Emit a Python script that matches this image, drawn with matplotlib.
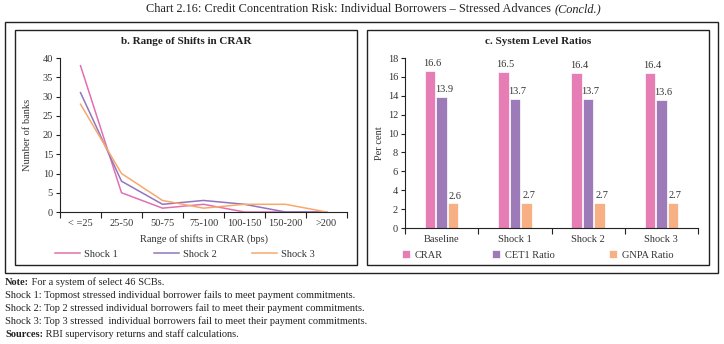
import matplotlib
matplotlib.use("Agg")
import matplotlib.pyplot as plt
from matplotlib.patches import Rectangle
import numpy as np

# ---- data ----
shift_cats = ["< =25", "25-50", "50-75", "75-100", "100-150", "150-200", ">200"]
shock1 = [38, 5, 1, 2, 0, 0, 0]
shock2 = [31, 8, 2, 3, 2, 0, 0]
shock3 = [28, 10, 3, 1, 2, 2, 0]

ratio_cats = ["Baseline", "Shock 1", "Shock 2", "Shock 3"]
crar = [16.6, 16.5, 16.4, 16.4]
cet1 = [13.9, 13.7, 13.7, 13.6]
gnpa = [2.6, 2.7, 2.7, 2.7]

plt.rcParams['font.family'] = ['Liberation Serif', 'DejaVu Serif']

W, H = 724, 344
fig = plt.figure(figsize=(W / 100, H / 100), dpi=100)

def fx(x):
    return x / W

def fy(y):
    return 1 - y / H

def rect(x0, y0, x1, y1, lw=1.0):
    fig.add_artist(Rectangle((fx(x0), fy(y1)), fx(x1) - fx(x0), fy(y0) - fy(y1),
                             transform=fig.transFigure, fill=False,
                             edgecolor="#222222", linewidth=lw))

# frames
rect(5, 22, 718, 273, lw=1.0)
rect(15, 30, 357, 265, lw=1.0)
rect(367, 30, 709, 265, lw=1.0)

tcol = "#333333"
FS = 7.5
c_pink, c_purple, c_orange = "#E36FB0", "#9275BE", "#F8A86A"
b_pink, b_purple, b_orange = "#E67DB4", "#9C7BB8", "#F7B084"

fig.canvas.draw()
renderer = fig.canvas.get_renderer()

t = fig.text(fx(146), fy(12), "Chart 2.16: Credit Concentration Risk: Individual Borrowers \u2013 Stressed Advances ",
             ha="left", va="baseline", fontsize=8.8, color="#222222")
bb = t.get_window_extent(renderer=renderer)
fig.text(bb.x1 / fig.bbox.width, fy(12), "(Concld.)", ha="left", va="baseline", fontsize=8.8,
         style="italic", color="#222222")

# ---------- left panel ----------
ax1 = fig.add_axes([fx(60), fy(212), fx(347) - fx(60), fy(58) - fy(212)])
x = np.arange(len(shift_cats))
l1, = ax1.plot(x, shock1, color=c_pink, lw=1.1, label="Shock 1")
l2, = ax1.plot(x, shock2, color=c_purple, lw=1.1, label="Shock 2")
l3, = ax1.plot(x, shock3, color=c_orange, lw=1.1, label="Shock 3")
ax1.set_xlim(-0.5, len(shift_cats) - 0.5)
ax1.set_ylim(0, 40)
ax1.set_yticks(range(0, 41, 5))
ax1.set_xticks(np.arange(-0.5, len(shift_cats), 1))
ax1.set_xticklabels([])
ax1.set_xticks(x, minor=True)
ax1.set_xticklabels(shift_cats, minor=True)
ax1.tick_params(axis="x", which="minor", length=0, pad=5, labelsize=FS, colors=tcol)
ax1.tick_params(axis="x", which="major", length=4, width=0.8, color="#222222")
ax1.tick_params(axis="y", length=3, width=0.8, labelsize=FS, colors=tcol, color="#222222", pad=2)
for s in ["top", "right"]:
    ax1.spines[s].set_visible(False)
for s in ["left", "bottom"]:
    ax1.spines[s].set_color("#222222")
    ax1.spines[s].set_linewidth(0.8)
ax1.set_facecolor("none")
fig.text(fx(186), fy(42), "b. Range of Shifts in CRAR", ha="center", va="center",
         fontsize=8, fontweight="bold", color="#222222")
fig.text(fx(28), fy(135), "Number of banks", ha="center", va="center", rotation=90,
         fontsize=FS, color=tcol)
fig.text(fx(204), fy(239), "Range of shifts in CRAR (bps)", ha="center", va="center",
         fontsize=FS, color=tcol)

for h, xs in zip([l1, l2, l3], [55, 154, 252]):
    lg = fig.legend(handles=[h], loc="center left", bbox_to_anchor=(fx(xs), fy(254)),
                    frameon=False, fontsize=FS, handlelength=2.4, handletextpad=0.35,
                    borderpad=0, borderaxespad=0)
    for tt in lg.get_texts():
        tt.set_color(tcol)

# ---------- right panel ----------
ax2 = fig.add_axes([fx(405), fy(228), fx(698) - fx(405), fy(58) - fy(228)])
xr = np.arange(len(ratio_cats))
bw = 0.14
off = 0.157
series = [(crar, b_pink, "CRAR", -off), (cet1, b_purple, "CET1 Ratio", 0.0), (gnpa, b_orange, "GNPA Ratio", off)]
handles = []
for vals, col, lab, o in series:
    bars = ax2.bar(xr + o, vals, width=bw, color=col, label=lab, edgecolor="white", linewidth=0.5)
    handles.append(bars)
    for b, v in zip(bars, vals):
        ax2.text(b.get_x() + b.get_width() / 2 + 0.03, v + 0.3, f"{v:.1f}", ha="center", va="bottom",
                 fontsize=FS, color=tcol)
ax2.set_xlim(-0.5, len(ratio_cats) - 0.5)
ax2.set_ylim(0, 18)
ax2.set_yticks(range(0, 19, 2))
ax2.set_xticks(np.arange(-0.5, len(ratio_cats), 1))
ax2.set_xticklabels([])
ax2.set_xticks(xr, minor=True)
ax2.set_xticklabels(ratio_cats, minor=True)
ax2.tick_params(axis="x", which="minor", length=0, pad=5, labelsize=FS, colors=tcol)
ax2.tick_params(axis="x", which="major", length=4, width=0.8, color="#222222")
ax2.tick_params(axis="y", length=3, width=0.8, labelsize=FS, colors=tcol, color="#222222", pad=2)
for s in ["top", "right"]:
    ax2.spines[s].set_visible(False)
for s in ["left", "bottom"]:
    ax2.spines[s].set_color("#222222")
    ax2.spines[s].set_linewidth(0.8)
ax2.set_facecolor("none")
fig.text(fx(538), fy(42), "c. System Level Ratios", ha="center", va="center",
         fontsize=8, fontweight="bold", color="#222222")
fig.text(fx(379), fy(143), "Per cent", ha="center", va="center", rotation=90,
         fontsize=FS, color=tcol)
for h, xs in zip(handles, [402, 492, 609]):
    lg = fig.legend(handles=[h], loc="center left", bbox_to_anchor=(fx(xs), fy(255)),
                    frameon=False, fontsize=FS, handlelength=0.75, handleheight=0.75,
                    handletextpad=0.5, borderpad=0, borderaxespad=0)
    for tt in lg.get_texts():
        tt.set_color(tcol)

# ---------- notes ----------
notes = [
    ("Note:", " For a system of select 46 SCBs."),
    ("", "Shock 1: Topmost stressed individual borrower fails to meet payment commitments."),
    ("", "Shock 2: Top 2 stressed individual borrowers fail to meet their payment commitments."),
    ("", "Shock 3: Top 3 stressed  individual borrowers fail to meet their payment commitments."),
    ("Sources:", " RBI supervisory returns and staff calculations."),
]
ys = [285, 298, 311, 324, 337]
for (bold, rest), yy in zip(notes, ys):
    xx = fx(5)
    if bold:
        t = fig.text(xx, fy(yy), bold, ha="left", va="baseline", fontsize=FS,
                     fontweight="bold", color="#222222")
        bb = t.get_window_extent(renderer=renderer)
        xx = bb.x1 / fig.bbox.width
    fig.text(xx, fy(yy), rest, ha="left", va="baseline", fontsize=FS, color="#222222")

fig.savefig("out.png", dpi=100)
